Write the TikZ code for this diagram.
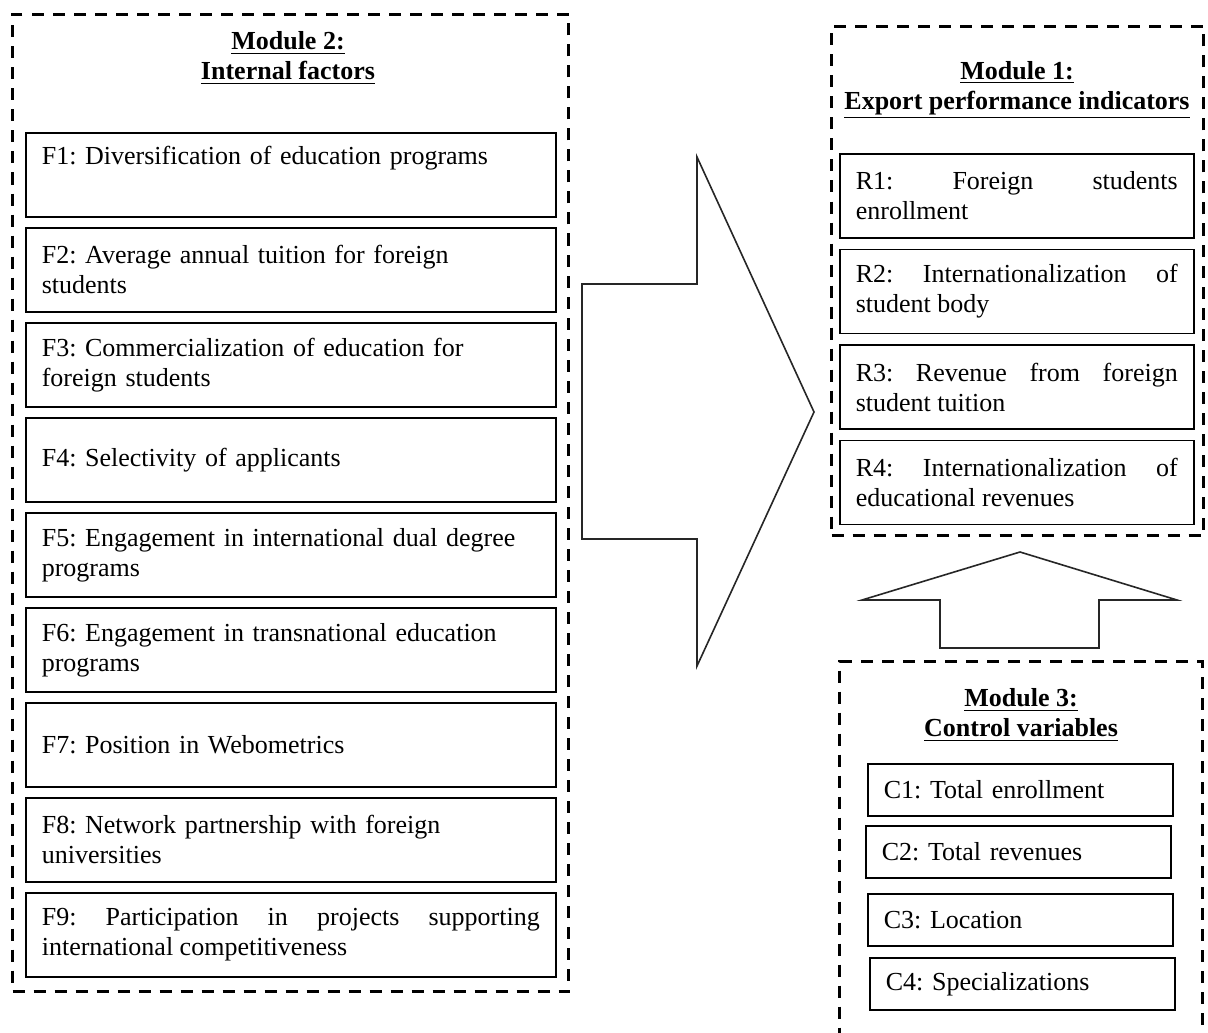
\documentclass[tikz,border=0pt]{standalone}
\usepackage{fontspec}
\setmainfont{Liberation Serif}
\usepackage{tikz}
\usetikzlibrary{positioning}
\frenchspacing
\tolerance=9999
\hyphenpenalty=10000
\tikzstyle{every node}=[font=\fontsize{13}{15}\selectfont]
\tikzstyle{module}=[draw,rectangle,line width=1.5pt,dash pattern=on 6pt off 4.5pt,anchor=north west,inner sep=0pt]
\tikzstyle{factor}=[draw,rectangle,line width=0.8pt,text width=249pt,inner xsep=8pt,minimum height=42pt,align=left]
\tikzstyle{result}=[draw,rectangle,line width=0.8pt,text width=161pt,inner xsep=8pt,minimum height=42pt,align=justify]
\tikzstyle{control}=[draw,rectangle,line width=0.8pt,text width=136.5pt,inner xsep=8pt,minimum height=26pt,align=left,anchor=north west]
\tikzstyle{title}=[align=center,font=\fontsize{13}{15}\selectfont\bfseries]
\tikzstyle{blockarrow}=[draw=black!85,line width=0.8pt,fill=white]

\begin{document}
\begin{tikzpicture}[x=0.5pt,y=-0.5pt,node distance=4.7pt]
    \useasboundingbox (0,0) rectangle (1208,1032);

    % the three modules
    \node[module,minimum width=278pt,minimum height=488.5pt] (mod2) at (11,13) {};
    \node[module,minimum width=186pt,minimum height=254.5pt] (mod1) at (830,25) {};
    \node[module,minimum width=181.5pt,minimum height=210pt] (mod3) at (838,660) {};

    \node[title] (t2) at (288,58) {\underline{Module 2:}\\\underline{Internal factors}};
    \node[title] (t1) at (1017,90) {\underline{Module 1:}\\\underline{Export performance indicators}};
    \node[title] (t3) at (1021,715) {\underline{Module 3:}\\\underline{Control variables}};

    % internal factors
    \node[factor,anchor=north west] (f1) at (25,132) {F1: Diversification of education programs\\\strut};
    \node[factor,below=of f1] (f2) {F2: Average annual tuition for foreign\\students};
    \node[factor,below=of f2] (f3) {F3: Commercialization of education for\\foreign students};
    \node[factor,below=of f3] (f4) {F4: Selectivity of applicants};
    \node[factor,below=of f4] (f5) {F5: Engagement in international dual degree\\programs};
    \node[factor,below=of f5] (f6) {F6: Engagement in transnational education\\programs};
    \node[factor,below=of f6] (f7) {F7: Position in Webometrics};
    \node[factor,below=of f7] (f8) {F8: Network partnership with foreign\\universities};
    \node[factor,align=justify,below=of f8] (f9) {F9: Participation in projects supporting\linebreak international competitiveness};

    % export performance indicators
    \node[result,anchor=north west] (r1) at (839,153) {R1: Foreign students\linebreak enrollment};
    \node[result,below=5pt of r1] (r2) {R2: Internationalization of\linebreak student body};
    \node[result,below=5pt of r2] (r3) {R3: Revenue from foreign\linebreak student tuition};
    \node[result,below=5pt of r3] (r4) {R4: Internationalization of\linebreak educational revenues};

    % control variables
    \node[control] (c1) at (867,763) {C1: Total enrollment};
    \node[control] (c2) at (865,825) {C2: Total revenues};
    \node[control] (c3) at (867,893) {C3: Location};
    \node[control] (c4) at (869,957) {C4: Specializations};

    % block arrows
    \draw[blockarrow] (582,284) -- (697,284) -- (697,157) -- (814,412) -- (697,666) -- (697,539) -- (582,539) -- cycle;
    \draw[blockarrow] (940,648) -- (940,600) -- (862,600) -- (1020,552) -- (1177,600) -- (1099,600) -- (1099,648) -- cycle;
\end{tikzpicture}
\end{document}
